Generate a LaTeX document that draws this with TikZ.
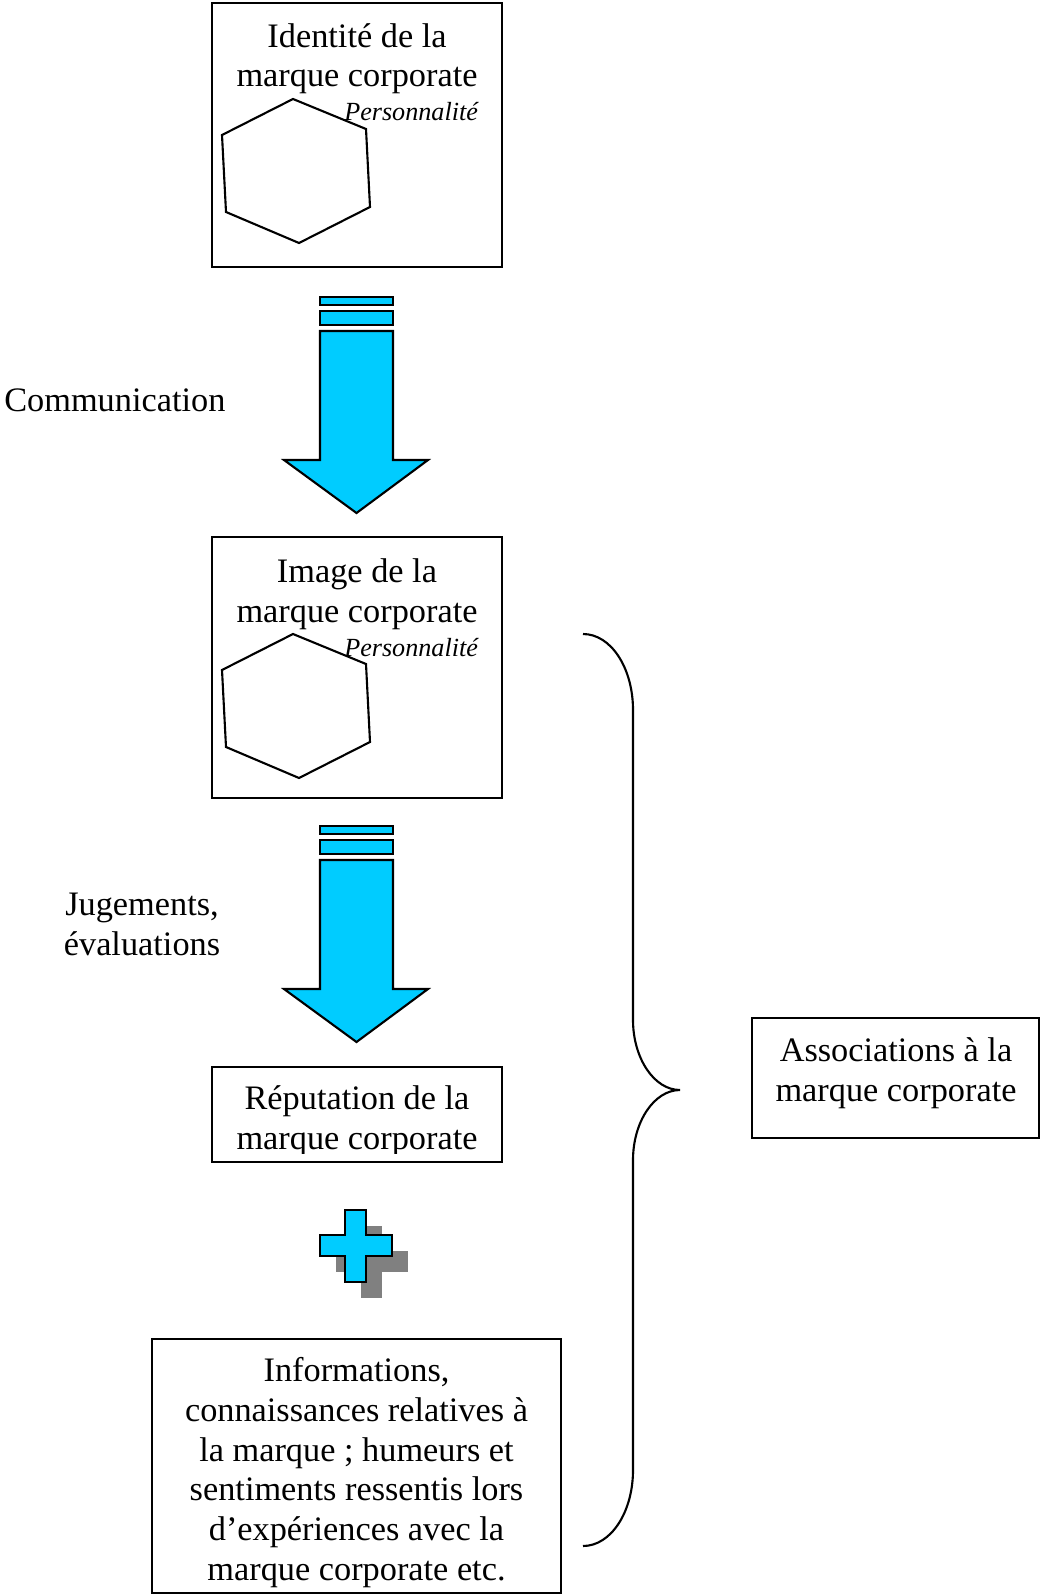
\documentclass[tikz,border=0pt]{standalone}
\usepackage{fontspec}
\setmainfont{Liberation Serif}
\usetikzlibrary{positioning}
\definecolor{bleuFleche}{RGB}{0,204,255}
\definecolor{grisOmbre}{RGB}{128,128,128}
\tikzset{
  cadre/.style={draw=black,line width=1.5pt},
  texte/.style={font=\fontsize{24.4}{28.2}\selectfont,inner sep=0pt,align=center},
  perso/.style={font=\fontsize{18.6}{21}\selectfont\itshape,inner sep=0pt},
  fleche/.style={fill=bleuFleche,draw=black,line width=1.5pt,line join=miter},
}
% fleche bleue vers le bas, #1 = decalage vertical
\newcommand\flecheBas[1]{%
  \begin{scope}[shift={(0,#1)}]
  \filldraw[fleche](320,297)rectangle(393,305);
  \filldraw[fleche](320,311)rectangle(393,325);
  \filldraw[fleche](320,331)--(393,331)--(393,460)--(428,460)--(356.5,513)--(284,460)--(320,460)--cycle;
  \end{scope}}
% hexagone de la personnalite
\newcommand\hexagone[1]{%
  \draw[line width=1.5pt,line join=miter,shift={(0,#1)}]
  (293,99)--(366,129)--(370,207)--(299,243)--(226,212)--(222,135)--cycle;}
\begin{document}
\begin{tikzpicture}[x=0.025cm,y=-0.025cm]
\useasboundingbox (0,0) rectangle (1042,1596);
% identite
\draw[cadre](212,3)rectangle(502,267);
\hexagone{0}
\node[texte,anchor=base](identite) at (357,87){Identité de la\\marque corporate};
\node[perso,anchor=base west](perso1) at (344,121){Personnalité};
\flecheBas{0}
\node[texte,anchor=base west](communication) at (4,411){Communication};
% image
\draw[cadre](212,537)rectangle(502,798);
\hexagone{535}
\node[texte,anchor=base](image) at (357,622){Image de la\\marque corporate};
\node[perso,anchor=base west](perso2) at (344,656){Personnalité};
\flecheBas{529}
\node[texte,anchor=base](jugements) at (142,955){Jugements,\\évaluations};
% reputation
\begin{scope}
\clip(212,1067)rectangle(502,1153);
\node[texte,anchor=base](reputation) at (357,1149){Réputation de la\\marque corporate};
\end{scope}
\draw[cadre](212,1067)rectangle(502,1162);
% plus avec ombre
\fill[grisOmbre](361,1226)rectangle(382,1298);
\fill[grisOmbre](336,1251)rectangle(408,1272);
\filldraw[fleche](345,1210)--(366,1210)--(366,1235)--(392,1235)--(392,1256)--(366,1256)--(366,1282)
  --(345,1282)--(345,1256)--(320,1256)--(320,1235)--(345,1235)--cycle;
% informations
\begin{scope}
\clip(152,1339)rectangle(561,1591);
\node[texte,anchor=base](informations) at (356.5,1580){Informations,\\connaissances relatives à\\la marque ; humeurs et\\sentiments ressentis lors\\d’expériences avec la\\marque corporate etc.};
\end{scope}
\draw[cadre](152,1339)rectangle(561,1593);
% accolade
\draw[line width=1.5pt](583,634)..controls(611,634)and(633,668)..(633,710)--(633,1020)
  ..controls(633,1058)and(654,1090)..(680,1090)
  ..controls(654,1090)and(633,1122)..(633,1160)--(633,1470)
  ..controls(633,1512)and(611,1546)..(583,1546);
% associations
\draw[cadre](752,1018)rectangle(1039,1138);
\node[texte,anchor=base](associations) at (896,1101){Associations à la\\marque corporate};
\end{tikzpicture}
\end{document}
